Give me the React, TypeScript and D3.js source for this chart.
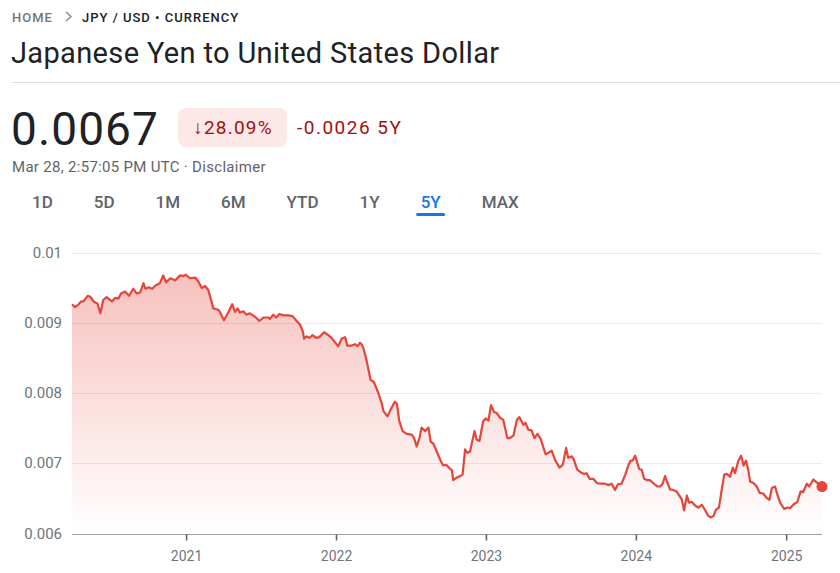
import { useEffect, useRef } from "react";
import * as d3 from "d3";

// header texts
const BREAD_HOME = "HOME";
const BREAD_PAIR = "JPY / USD • CURRENCY";
const TITLE = "Japanese Yen to United States Dollar";
const PRICE = "0.0067";
const CHANGE_PCT = "↓28.09%";
const CHANGE_ABS = "-0.0026 5Y";
const STAMP = "Mar 28, 2:57:05 PM UTC · Disclaimer";
const TABS = ["1D", "5D", "1M", "6M", "YTD", "1Y", "5Y", "MAX"];
const ACTIVE_TAB = "5Y";

// axes
const Y_TICKS = [0.006, 0.007, 0.008, 0.009, 0.01];
const X_TICKS = ["2021", "2022", "2023", "2024", "2025"];
const RANGE = ["2020-03-28", "2025-03-28"];

// JPY/USD
const SERIES: [string, number][] = [
  ["2020-03-28", 0.00927], ["2020-04-04", 0.00923], ["2020-04-12", 0.00926],
  ["2020-04-19", 0.00931], ["2020-04-25", 0.00931], ["2020-05-05", 0.00939],
  ["2020-05-11", 0.00938], ["2020-05-21", 0.0093], ["2020-05-29", 0.00928],
  ["2020-06-05", 0.00914], ["2020-06-12", 0.00933], ["2020-06-20", 0.00937],
  ["2020-07-03", 0.00931], ["2020-07-11", 0.00936], ["2020-07-19", 0.00935],
  ["2020-07-25", 0.00942], ["2020-08-04", 0.00945], ["2020-08-14", 0.00939],
  ["2020-08-24", 0.00949], ["2020-09-02", 0.00942], ["2020-09-10", 0.00944],
  ["2020-09-18", 0.00957], ["2020-09-23", 0.00949], ["2020-10-01", 0.00951],
  ["2020-10-09", 0.00949], ["2020-10-18", 0.00954], ["2020-10-28", 0.00957],
  ["2020-11-05", 0.00968], ["2020-11-12", 0.00958], ["2020-11-22", 0.00964],
  ["2020-12-04", 0.00961], ["2020-12-16", 0.00968], ["2020-12-24", 0.00967],
  ["2020-12-30", 0.00969], ["2021-01-09", 0.00964], ["2021-01-22", 0.00965],
  ["2021-01-30", 0.00959], ["2021-02-07", 0.0095], ["2021-02-15", 0.00953],
  ["2021-02-23", 0.00947], ["2021-03-03", 0.0093], ["2021-03-07", 0.00921],
  ["2021-03-19", 0.00919], ["2021-03-23", 0.00916], ["2021-04-02", 0.00904],
  ["2021-04-13", 0.00916], ["2021-04-22", 0.00927], ["2021-04-29", 0.00916],
  ["2021-05-05", 0.00921], ["2021-05-11", 0.00915], ["2021-05-19", 0.00917],
  ["2021-05-27", 0.00912], ["2021-06-04", 0.00914], ["2021-06-17", 0.00909],
  ["2021-06-27", 0.00903], ["2021-07-07", 0.00908], ["2021-07-19", 0.00908],
  ["2021-07-23", 0.00906], ["2021-07-31", 0.00912], ["2021-08-07", 0.00908],
  ["2021-08-15", 0.00913], ["2021-08-25", 0.00911], ["2021-09-06", 0.00911],
  ["2021-09-16", 0.0091], ["2021-09-26", 0.00903], ["2021-10-04", 0.00898],
  ["2021-10-11", 0.00888], ["2021-10-14", 0.00878], ["2021-10-20", 0.00881],
  ["2021-10-27", 0.00879], ["2021-11-04", 0.00883], ["2021-11-12", 0.00879],
  ["2021-11-20", 0.0088], ["2021-12-02", 0.00887], ["2021-12-12", 0.00883],
  ["2021-12-20", 0.00879], ["2021-12-28", 0.00873], ["2022-01-05", 0.00867],
  ["2022-01-14", 0.00878], ["2022-01-22", 0.0088], ["2022-01-27", 0.00868],
  ["2022-02-07", 0.00868], ["2022-02-15", 0.0087], ["2022-02-21", 0.00867],
  ["2022-02-27", 0.00872], ["2022-03-03", 0.0087], ["2022-03-07", 0.00865],
  ["2022-03-14", 0.0085], ["2022-03-19", 0.00836], ["2022-03-25", 0.00819],
  ["2022-04-02", 0.00816], ["2022-04-13", 0.008], ["2022-04-21", 0.00786],
  ["2022-04-25", 0.00775], ["2022-05-05", 0.00767], ["2022-05-13", 0.00777],
  ["2022-05-23", 0.00788], ["2022-05-28", 0.00785], ["2022-06-03", 0.0076],
  ["2022-06-11", 0.00746], ["2022-06-21", 0.00742], ["2022-07-03", 0.00741],
  ["2022-07-09", 0.00736], ["2022-07-15", 0.00724], ["2022-07-22", 0.00736],
  ["2022-07-27", 0.00751], ["2022-08-05", 0.00746], ["2022-08-13", 0.00751],
  ["2022-08-18", 0.00731], ["2022-08-25", 0.00728], ["2022-09-02", 0.00717],
  ["2022-09-12", 0.00703], ["2022-09-18", 0.00697], ["2022-09-25", 0.00698],
  ["2022-10-03", 0.00693], ["2022-10-09", 0.0069], ["2022-10-12", 0.00676],
  ["2022-10-19", 0.00679], ["2022-10-29", 0.00682], ["2022-11-04", 0.00684],
  ["2022-11-10", 0.0072], ["2022-11-16", 0.00715], ["2022-11-22", 0.00717],
  ["2022-12-03", 0.00746], ["2022-12-08", 0.00734], ["2022-12-15", 0.00732],
  ["2022-12-24", 0.0076], ["2022-12-30", 0.00764], ["2023-01-06", 0.00761],
  ["2023-01-12", 0.00783], ["2023-01-20", 0.00773], ["2023-01-26", 0.00772],
  ["2023-02-03", 0.00765], ["2023-02-11", 0.00762], ["2023-02-21", 0.00736],
  ["2023-02-27", 0.00736], ["2023-03-08", 0.0074], ["2023-03-16", 0.00762],
  ["2023-03-22", 0.00766], ["2023-04-01", 0.00755], ["2023-04-06", 0.00758],
  ["2023-04-13", 0.00748], ["2023-04-21", 0.00747], ["2023-04-28", 0.00736],
  ["2023-05-05", 0.00742], ["2023-05-13", 0.00735], ["2023-05-25", 0.00713],
  ["2023-06-01", 0.00715], ["2023-06-09", 0.00718], ["2023-06-17", 0.00705],
  ["2023-06-28", 0.00694], ["2023-07-06", 0.00698], ["2023-07-14", 0.00722],
  ["2023-07-19", 0.00708], ["2023-07-28", 0.0071], ["2023-08-02", 0.00705],
  ["2023-08-10", 0.00691], ["2023-08-19", 0.00687], ["2023-08-27", 0.00685],
  ["2023-09-02", 0.00686], ["2023-09-09", 0.00678], ["2023-09-18", 0.00678],
  ["2023-09-27", 0.00672], ["2023-10-05", 0.00671], ["2023-10-17", 0.00671],
  ["2023-10-25", 0.00669], ["2023-11-02", 0.00671], ["2023-11-10", 0.00662],
  ["2023-11-17", 0.0067], ["2023-11-26", 0.00671], ["2023-12-05", 0.00684],
  ["2023-12-13", 0.00698], ["2023-12-18", 0.00704], ["2023-12-23", 0.00704],
  ["2023-12-29", 0.00711], ["2024-01-03", 0.00701], ["2024-01-08", 0.00692],
  ["2024-01-14", 0.00691], ["2024-01-20", 0.00678], ["2024-01-28", 0.00676],
  ["2024-02-03", 0.00676], ["2024-02-11", 0.00672], ["2024-02-21", 0.00667],
  ["2024-02-28", 0.00667], ["2024-03-05", 0.00671], ["2024-03-11", 0.00682],
  ["2024-03-17", 0.00672], ["2024-03-23", 0.00663], ["2024-03-31", 0.00662],
  ["2024-04-08", 0.0066], ["2024-04-16", 0.00653], ["2024-04-21", 0.00648],
  ["2024-04-26", 0.00633], ["2024-05-03", 0.00654], ["2024-05-08", 0.00644],
  ["2024-05-15", 0.00645], ["2024-05-23", 0.0064], ["2024-05-31", 0.00637],
  ["2024-06-08", 0.00641], ["2024-06-16", 0.00634], ["2024-06-23", 0.00626],
  ["2024-06-30", 0.00623], ["2024-07-07", 0.00625], ["2024-07-13", 0.00634],
  ["2024-07-20", 0.00637], ["2024-07-27", 0.00663], ["2024-08-02", 0.00684],
  ["2024-08-08", 0.00685], ["2024-08-16", 0.00681], ["2024-08-23", 0.00694],
  ["2024-08-28", 0.00686], ["2024-09-05", 0.00703], ["2024-09-12", 0.00711],
  ["2024-09-18", 0.00697], ["2024-09-24", 0.00704], ["2024-09-30", 0.00689],
  ["2024-10-04", 0.00674], ["2024-10-12", 0.00672], ["2024-10-20", 0.00667],
  ["2024-10-27", 0.00658], ["2024-11-05", 0.00657], ["2024-11-13", 0.00651],
  ["2024-11-20", 0.00648], ["2024-11-26", 0.00665], ["2024-12-04", 0.00667],
  ["2024-12-09", 0.00656], ["2024-12-16", 0.00644], ["2024-12-26", 0.00635],
  ["2025-01-03", 0.00637], ["2025-01-09", 0.00636], ["2025-01-17", 0.00641],
  ["2025-01-27", 0.00645], ["2025-02-04", 0.0066], ["2025-02-10", 0.00659],
  ["2025-02-19", 0.00671], ["2025-02-25", 0.00667], ["2025-03-07", 0.00677],
  ["2025-03-15", 0.00673], ["2025-03-28", 0.00667],
];

const RED = "#e5453a";
const FONT = "Roboto, 'Noto Sans', sans-serif";

export default function App() {
  const ref = useRef<SVGSVGElement>(null);

  useEffect(() => {
    if (!ref.current) return;
    const svg = d3.select(ref.current);
    svg.selectAll("*").remove();

    const W = 840;
    const H = 573;
    const m = { top: 253, right: 18, bottom: 39, left: 72 };

    svg.attr("viewBox", `0 0 ${W} ${H}`).attr("width", W).attr("height", H);
    svg.style("font-family", FONT);

    // Header
    const head = svg.append("g");
    head.append("text").attr("x", 12).attr("y", 22)
      .attr("font-size", 13).attr("font-weight", 500).attr("letter-spacing", 1)
      .attr("fill", "#70757a").text(BREAD_HOME);
    head.append("path").attr("d", "M66,12 L71,16.5 L66,21")
      .attr("fill", "none").attr("stroke", "#80868b").attr("stroke-width", 1.3);
    head.append("text").attr("x", 82).attr("y", 22)
      .attr("font-size", 13).attr("font-weight", 500).attr("letter-spacing", 1)
      .attr("fill", "#202124").text(BREAD_PAIR);
    head.append("text").attr("x", 11).attr("y", 63)
      .attr("font-size", 29).attr("letter-spacing", 0.35)
      .attr("fill", "#202124").text(TITLE);
    head.append("line").attr("x1", 12).attr("x2", W).attr("y1", 82.5).attr("y2", 82.5)
      .attr("stroke", "#dadce0");

    head.append("text").attr("x", 11).attr("y", 145)
      .attr("font-size", 46).attr("letter-spacing", 1.1)
      .attr("fill", "#202124").text(PRICE);
    head.append("rect").attr("x", 178).attr("y", 108).attr("width", 109).attr("height", 39)
      .attr("rx", 8).attr("fill", "#fce8e6");
    head.append("text").attr("x", 233).attr("y", 134).attr("text-anchor", "middle")
      .attr("font-size", 19).attr("letter-spacing", 1.2)
      .attr("fill", "#a50e0e").text(CHANGE_PCT);
    head.append("text").attr("x", 297).attr("y", 134)
      .attr("font-size", 19).attr("letter-spacing", 1.5)
      .attr("fill", "#a50e0e").text(CHANGE_ABS);
    head.append("text").attr("x", 12).attr("y", 172)
      .attr("font-size", 15).attr("letter-spacing", 0.3)
      .attr("fill", "#5f6368").text(STAMP);

    // Range tabs, laid out by text width
    let cx = 32;
    TABS.forEach((t) => {
      const active = t === ACTIVE_TAB;
      const el = head.append("text").attr("x", cx).attr("y", 208)
        .attr("font-size", 17).attr("font-weight", 500)
        .attr("fill", active ? "#1a73e8" : "#5f6368").text(t);
      const tw = (el.node() as SVGTextElement).getComputedTextLength();
      if (active) {
        head.append("rect").attr("x", cx + tw / 2 - 14.5).attr("y", 213)
          .attr("width", 29).attr("height", 3).attr("rx", 1.5).attr("fill", "#1a73e8");
      }
      cx += tw + 41;
    });

    // Scales
    const parse = d3.timeParse("%Y-%m-%d");
    const data = SERIES.map(([d, v]) => ({ date: parse(d) as Date, value: v }));
    const x = d3.scaleTime()
      .domain(RANGE.map((d) => parse(d) as Date))
      .range([m.left, W - m.right]);
    const y = d3.scaleLinear()
      .domain(d3.extent(Y_TICKS) as [number, number])
      .range([H - m.bottom - 0.5, m.top]);

    // Gradient
    const defs = svg.append("defs");
    const grad = defs.append("linearGradient").attr("id", "fillGrad")
      .attr("gradientUnits", "userSpaceOnUse")
      .attr("x1", 0).attr("x2", 0).attr("y1", y(0.01)).attr("y2", y(0.006));
    grad.append("stop").attr("offset", 0).attr("stop-color", RED).attr("stop-opacity", 0.36);
    grad.append("stop").attr("offset", 1).attr("stop-color", RED).attr("stop-opacity", 0.0);

    // Grid
    svg.append("g").selectAll("line")
      .data(Y_TICKS.slice(1))
      .join("line")
      .attr("x1", m.left).attr("x2", W - m.right)
      .attr("y1", (d) => Math.round(y(d)) + 0.5).attr("y2", (d) => Math.round(y(d)) + 0.5)
      .attr("stroke", "#ebebeb");

    // Y labels
    svg.append("g").selectAll("text")
      .data(Y_TICKS)
      .join("text")
      .attr("x", 62).attr("y", (d) => y(d) + 5)
      .attr("text-anchor", "end").attr("font-size", 15).attr("fill", "#70757a")
      .text((d) => String(d));

    // Area + line
    const area = d3.area<{ date: Date; value: number }>()
      .x((d) => x(d.date)).y0(y(0.006)).y1((d) => y(d.value));
    const line = d3.line<{ date: Date; value: number }>()
      .x((d) => x(d.date)).y((d) => y(d.value));
    svg.append("path").datum(data).attr("d", area).attr("fill", "url(#fillGrad)");
    svg.append("path").datum(data).attr("d", line)
      .attr("fill", "none").attr("stroke", RED).attr("stroke-width", 2.2)
      .attr("stroke-linejoin", "round");

    // X axis
    const base = Math.round(y(0.006)) + 0.5;
    svg.append("line").attr("x1", m.left).attr("x2", W - m.right)
      .attr("y1", base).attr("y2", base).attr("stroke", "#9aa0a6");
    const xt = svg.append("g").selectAll("g")
      .data(X_TICKS)
      .join("g")
      .attr("transform", (d) => `translate(${x(parse(`${d}-01-01`) as Date)},0)`);
    xt.append("line").attr("y1", base).attr("y2", base + 6)
      .attr("stroke", "#5f6368").attr("stroke-width", 1.6);
    xt.append("text").attr("y", 561).attr("text-anchor", "middle")
      .attr("font-size", 14).attr("fill", "#70757a").text((d) => d);

    // End dot
    const last = data[data.length - 1];
    svg.append("circle").attr("cx", x(last.date)).attr("cy", y(last.value))
      .attr("r", 5.5).attr("fill", RED);
  }, []);

  return (
    <svg ref={ref} style={{ position: "absolute", left: 0, top: 0, display: "block" }} />
  );
}
